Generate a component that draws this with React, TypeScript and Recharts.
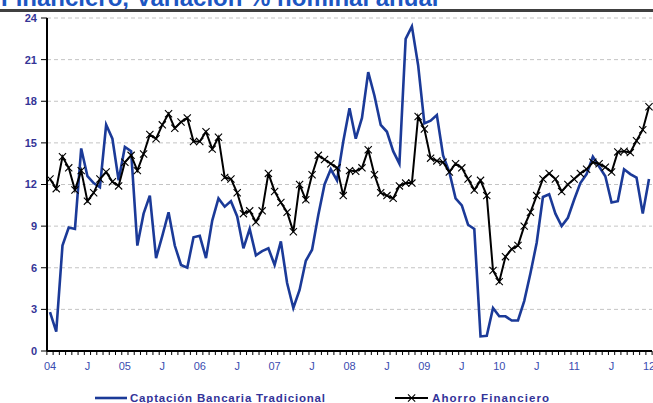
import React from 'react';
import { LineChart, Line, XAxis, YAxis, CartesianGrid } from 'recharts';

// Monthly categories Jan 2004 .. Jan 2012
const categories: string[] = [];
for (let y = 2004; y <= 2012; y++) {
  for (let m = 1; m <= 12; m++) {
    if (y === 2012 && m > 1) break;
    categories.push(`${y}-${String(m).padStart(2, '0')}`);
  }
}

const captacion = [
  2.8, 1.4, 7.6, 8.9, 8.8, 14.6, 12.6, 12.1, 11.8, 16.3, 15.3, 12.3,
  14.7, 14.4, 7.6, 9.9, 11.2, 6.7, 8.3, 10.0, 7.6, 6.2, 6.0, 8.2,
  8.3, 6.7, 9.4, 11.0, 10.4, 10.8, 9.7, 7.4, 8.8, 6.9, 7.2, 7.4,
  6.2, 7.9, 4.9, 3.1, 4.4, 6.5, 7.3, 9.8, 12.0, 13.1, 12.3, 15.1,
  17.5, 15.3, 16.8, 20.1, 18.4, 16.3, 15.8, 14.4, 13.5, 22.5, 23.4, 20.6,
  16.4, 16.6, 17.0, 14.1, 12.9, 11.0, 10.5, 9.1, 8.8, 1.05, 1.1, 3.1,
  2.5, 2.5, 2.2, 2.2, 3.6, 5.6, 7.8, 11.1, 11.3, 9.9, 9.0, 9.6,
  10.9, 12.1, 12.75, 14.0, 13.3, 12.6, 10.7, 10.8, 13.1, 12.75, 12.5, 9.9,
  12.4,
];

const ahorro = [
  12.4, 11.7, 14.0, 13.2, 11.6, 13.0, 10.8, 11.4, 12.4, 12.9, 12.2, 11.9,
  13.6, 14.1, 13.0, 14.2, 15.6, 15.3, 16.3, 17.1, 16.05, 16.5, 16.8, 15.1,
  15.1, 15.8, 14.55, 15.4, 12.5, 12.4, 11.4, 9.9, 10.1, 9.3, 10.1, 12.8,
  11.5, 10.7, 10.0, 8.6, 12.0, 10.9, 12.7, 14.1, 13.8, 13.5, 13.2, 11.2,
  13.0, 12.95, 13.2, 14.5, 12.7, 11.4, 11.2, 11.0, 11.9, 12.1, 12.1, 16.9,
  16.0, 13.9, 13.7, 13.6, 12.9, 13.5, 13.2, 12.4, 11.6, 12.3, 11.2, 5.8,
  5.0, 6.8, 7.35, 7.6, 9.0, 10.0, 11.2, 12.4, 12.8, 12.4, 11.5, 12.0,
  12.4, 12.8, 13.1, 13.6, 13.5, 13.25, 12.9, 14.35, 14.4, 14.3, 15.15, 15.95,
  17.6,
];

const xTickLabels = ['04', 'J', '05', 'J', '06', 'J', '07', 'J', '08', 'J', '09', 'J', '10', 'J', '11', 'J', '12'];
const yTicks = [0, 3, 6, 9, 12, 15, 18, 21, 24];

const seriesNames = {
  captacion: 'Captación Bancaria Tradicional',
  ahorro: 'Ahorro Financiero',
};
const titleText = 'Financiero, Variación % nominal anual';

const data = categories.map((c, i) => ({ month: c, captacion: captacion[i], ahorro: ahorro[i] }));

const FONT = '"Liberation Sans", Arial, sans-serif';
const BLUE = '#1b3a98';

const XTick = (props: any) => {
  const { x, y, index } = props;
  const half = 3.12;
  const label = index % 6 === 0 ? xTickLabels[index / 6] : null;
  return (
    <g>
      <line x1={x - half} x2={x - half} y1={y} y2={y + 4} stroke="#000" strokeWidth={1} />
      {index === categories.length - 1 && (
        <line x1={x + half} x2={x + half} y1={y} y2={y + 4} stroke="#000" strokeWidth={1} />
      )}
      {label && (
        <text x={x} y={y + 19} textAnchor="middle" fontSize={11} fill="#3b4cb0" fontFamily={FONT}>
          {label}
        </text>
      )}
    </g>
  );
};

const XDot = (props: any) => {
  const { cx, cy, index } = props;
  if (cx == null || cy == null) return <g key={`n${index}`} />;
  const s = 3.6;
  return (
    <path
      key={`d${index}`}
      d={`M${cx - s},${cy - s}L${cx + s},${cy + s}M${cx - s},${cy + s}L${cx + s},${cy - s}`}
      stroke="#000"
      strokeWidth={1.1}
      fill="none"
    />
  );
};

export default function App() {
  return (
    <div
      style={{
        position: 'absolute',
        left: 0,
        top: 0,
        width: 653,
        height: 403,
        overflow: 'hidden',
        background: '#fff',
        fontFamily: FONT,
      }}
    >
      <LineChart
        width={653}
        height={403}
        data={data}
        margin={{ top: 18, right: 1, bottom: 0, left: 0 }}
      >
        <CartesianGrid vertical={false} strokeDasharray="4 3" stroke="#c4c4c4" />
        <XAxis
          dataKey="month"
          interval={0}
          tick={<XTick />}
          tickSize={0}
          tickMargin={0}
          tickLine={false}
          axisLine={{ stroke: '#000', strokeWidth: 2 }}
          padding={{ left: 3, right: 3 }}
          height={52}
        />
        <YAxis
          width={47}
          domain={[0, 24]}
          ticks={yTicks}
          interval={0}
          tickSize={6}
          tickMargin={4}
          tickLine={{ stroke: '#000' }}
          axisLine={{ stroke: '#000', strokeWidth: 2 }}
          tick={{ fontSize: 11, fontWeight: 'bold', fill: '#353597', fontFamily: FONT }}
        />
        <Line
          type="linear"
          dataKey="captacion"
          name={seriesNames.captacion}
          stroke={BLUE}
          strokeWidth={2.6}
          dot={false}
          isAnimationActive={false}
        />
        <Line
          type="linear"
          dataKey="ahorro"
          name={seriesNames.ahorro}
          stroke="#000"
          strokeWidth={2}
          dot={XDot}
          activeDot={false}
          isAnimationActive={false}
        />
      </LineChart>
      <svg
        width={653}
        height={403}
        style={{ position: 'absolute', left: 0, top: 0, pointerEvents: 'none' }}
      >
        <text x={1} y={6} fontSize={24} fontWeight="bold" fill="#1d56c2" fontFamily={FONT}>
          {titleText}
        </text>
        <rect x={0} y={9} width={653} height={3} fill="#404040" />
        <line x1={95} x2={127} y1={398} y2={398} stroke={BLUE} strokeWidth={2.6} />
        <text x={130} y={402} fontSize={11.5} fontWeight="bold" fill="#333399" fontFamily={FONT} textLength={195} lengthAdjust="spacing">
          {seriesNames.captacion}
        </text>
        <line x1={395} x2={428} y1={398} y2={398} stroke="#000" strokeWidth={2} />
        <path d="M408,394.4L415.2,401.6M408,401.6L415.2,394.4" stroke="#000" strokeWidth={1.1} fill="none" />
        <text x={432} y={402} fontSize={11.5} fontWeight="bold" fill="#333399" fontFamily={FONT} textLength={117} lengthAdjust="spacing">
          {seriesNames.ahorro}
        </text>
      </svg>
    </div>
  );
}
